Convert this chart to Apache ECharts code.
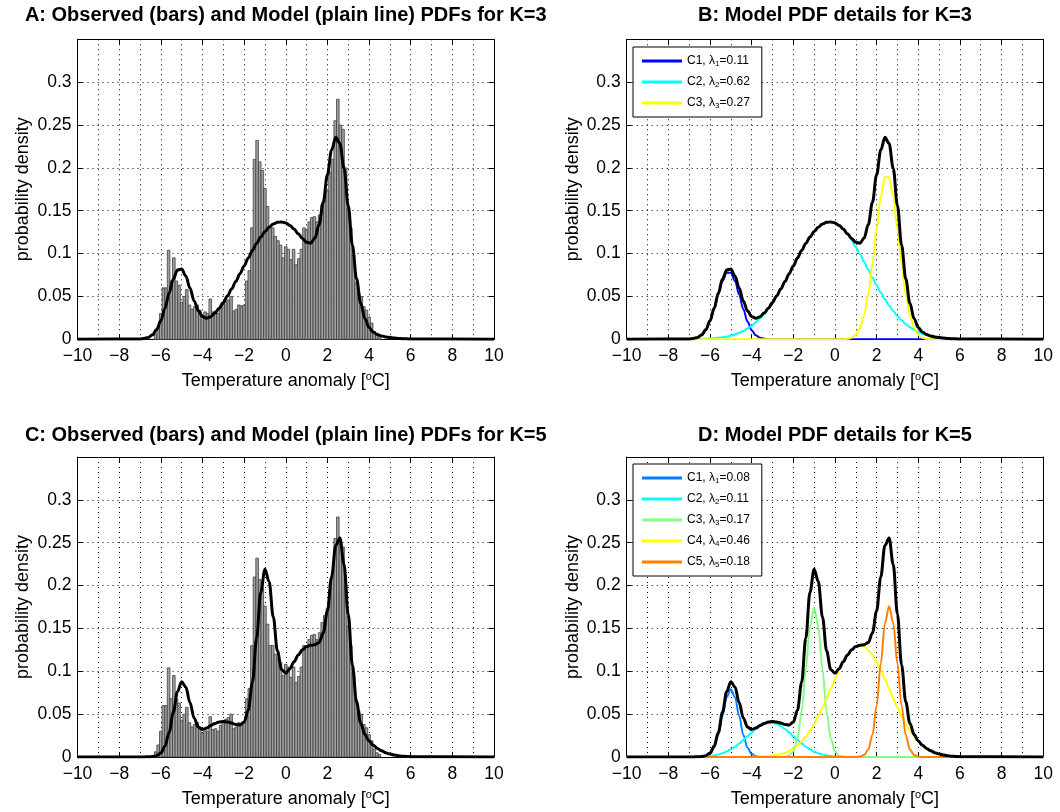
<!DOCTYPE html>
<html><head><meta charset="utf-8">
<script src="https://cdn.jsdelivr.net/npm/echarts@6/dist/echarts.min.js"></script>
<style>html,body{margin:0;padding:0;background:#fff}#c{width:1060px;height:812px}</style>
</head><body><div id="c"></div><script>
// ---------------- DATA ----------------
const titles = [
  'A: Observed (bars) and Model (plain line) PDFs for K=3',
  'B: Model PDF details for K=3',
  'C: Observed (bars) and Model (plain line) PDFs for K=5',
  'D: Model PDF details for K=5'
];
const xTicks = [-10, -8, -6, -4, -2, 0, 2, 4, 6, 8, 10];
const yTicks = [0, 0.05, 0.1, 0.15, 0.2, 0.25, 0.3];
const xName = 'Temperature anomaly [{sup|o}C]';
const yName = 'probability density';

// observed histogram (same observations for A and C)
const binWidth = 0.125;
const binCenters = [-6.25, -6.125, -6, -5.875, -5.75, -5.625, -5.5, -5.375, -5.25, -5.125, -5, -4.875, -4.75, -4.625, -4.5, -4.375, -4.25, -4.125, -4, -3.875, -3.75, -3.625, -3.5, -3.375, -3.25, -3.125, -3, -2.875, -2.75, -2.625, -2.5, -2.375, -2.25, -2.125, -2, -1.875, -1.75, -1.625, -1.5, -1.375, -1.25, -1.125, -1, -0.875, -0.75, -0.625, -0.5, -0.375, -0.25, -0.125, 0, 0.125, 0.25, 0.375, 0.5, 0.625, 0.75, 0.875, 1, 1.125, 1.25, 1.375, 1.5, 1.625, 1.75, 1.875, 2, 2.125, 2.25, 2.375, 2.5, 2.625, 2.75, 2.875, 3, 3.125, 3.25, 3.375, 3.5, 3.625, 3.75, 3.875, 4, 4.125, 4.25, 4.375, 4.5];
const observed = [0.006, 0.014, 0.03, 0.06, 0.06, 0.104, 0.068, 0.095, 0.068, 0.063, 0.043, 0.05, 0.058, 0.04, 0.035, 0.038, 0.04, 0.034, 0.028, 0.032, 0.03, 0.047, 0.032, 0.033, 0.03, 0.037, 0.04, 0.044, 0.046, 0.05, 0.033, 0.035, 0.04, 0.039, 0.04, 0.068, 0.08, 0.13, 0.21, 0.232, 0.207, 0.197, 0.176, 0.155, 0.13, 0.13, 0.12, 0.115, 0.11, 0.095, 0.108, 0.105, 0.093, 0.105, 0.087, 0.094, 0.105, 0.13, 0.128, 0.137, 0.142, 0.143, 0.137, 0.145, 0.157, 0.165, 0.173, 0.195, 0.21, 0.255, 0.28, 0.25, 0.245, 0.2, 0.153, 0.13, 0.098, 0.066, 0.054, 0.05, 0.038, 0.034, 0.026, 0.019, 0.009, 0.005, 0.003];

// model curves sampled along xs
const xs = [-10, -7, -6.8, -6.6, -6.4, -6.2, -6, -5.8, -5.6, -5.4, -5.2, -5, -4.8, -4.6, -4.4, -4.2, -4, -3.8, -3.6, -3.4, -3.2, -3, -2.8, -2.6, -2.4, -2.2, -2, -1.8, -1.6, -1.4, -1.2, -1, -0.8, -0.6, -0.4, -0.2, 0, 0.2, 0.4, 0.6, 0.8, 1, 1.2, 1.4, 1.6, 1.8, 2, 2.2, 2.4, 2.6, 2.8, 3, 3.2, 3.4, 3.6, 3.8, 4, 4.2, 4.4, 4.6, 4.8, 5, 5.2, 5.4, 5.6, 5.8, 6, 10];

const k3c1 = [0, 0.0002, 0.0007, 0.0019, 0.0048, 0.0107, 0.0207, 0.0351, 0.0523, 0.0681, 0.0777, 0.0777, 0.0681, 0.0523, 0.0351, 0.0207, 0.0107, 0.0048, 0.0019, 0.0007, 0.0002, 0, 0, 0, 0, 0, 0, 0, 0, 0, 0, 0, 0, 0, 0, 0, 0, 0, 0, 0, 0, 0, 0, 0, 0, 0, 0, 0, 0, 0, 0, 0, 0, 0, 0, 0, 0, 0, 0, 0, 0, 0, 0, 0, 0, 0, 0, 0];
const k3c2 = [0, 0.0001, 0.0002, 0.0003, 0.0004, 0.0006, 0.0009, 0.0012, 0.0017, 0.0023, 0.0032, 0.0043, 0.0057, 0.0075, 0.0097, 0.0125, 0.0158, 0.0198, 0.0245, 0.0299, 0.036, 0.0429, 0.0505, 0.0587, 0.0674, 0.0764, 0.0856, 0.0948, 0.1036, 0.1118, 0.1193, 0.1257, 0.1308, 0.1345, 0.1365, 0.1369, 0.1357, 0.1328, 0.1284, 0.1226, 0.1157, 0.1078, 0.0992, 0.0902, 0.081, 0.0719, 0.063, 0.0545, 0.0466, 0.0394, 0.0329, 0.0271, 0.0221, 0.0177, 0.0141, 0.0111, 0.0086, 0.0066, 0.005, 0.0037, 0.0027, 0.002, 0.0014, 0.001, 0.0007, 0.0005, 0.0003, 0];
const k3c3 = [0, 0, 0, 0, 0, 0, 0, 0, 0, 0, 0, 0, 0, 0, 0, 0, 0, 0, 0, 0, 0, 0, 0, 0, 0, 0, 0, 0, 0, 0, 0, 0, 0, 0, 0, 0, 0, 0, 0.0002, 0.0006, 0.0019, 0.0053, 0.013, 0.0279, 0.0528, 0.0879, 0.1289, 0.1663, 0.189, 0.189, 0.1663, 0.1289, 0.0879, 0.0528, 0.0279, 0.013, 0.0053, 0.0019, 0.0006, 0.0002, 0, 0, 0, 0, 0, 0, 0, 0];
const k3total = [0, 0.0003, 0.0009, 0.0022, 0.0052, 0.0113, 0.0216, 0.0363, 0.054, 0.0704, 0.0809, 0.082, 0.0738, 0.0598, 0.0448, 0.0332, 0.0265, 0.0246, 0.0264, 0.0306, 0.0362, 0.0429, 0.0505, 0.0587, 0.0674, 0.0764, 0.0856, 0.0948, 0.1036, 0.1118, 0.1193, 0.1257, 0.1308, 0.1345, 0.1365, 0.1369, 0.1357, 0.1328, 0.1286, 0.1232, 0.1176, 0.1131, 0.1122, 0.1181, 0.1338, 0.1598, 0.1919, 0.2208, 0.2356, 0.2284, 0.1992, 0.156, 0.11, 0.0705, 0.042, 0.0241, 0.0139, 0.0085, 0.0056, 0.0039, 0.0027, 0.002, 0.0014, 0.001, 0.0007, 0.0005, 0.0003, 0];

const k5c1 = [0, 0, 0, 0, 0.0002, 0.0009, 0.0035, 0.0107, 0.0257, 0.0479, 0.0697, 0.079, 0.0697, 0.0479, 0.0257, 0.0107, 0.0035, 0.0009, 0.0002, 0, 0, 0, 0, 0, 0, 0, 0, 0, 0, 0, 0, 0, 0, 0, 0, 0, 0, 0, 0, 0, 0, 0, 0, 0, 0, 0, 0, 0, 0, 0, 0, 0, 0, 0, 0, 0, 0, 0, 0, 0, 0, 0, 0, 0, 0, 0, 0, 0];
const k5c2 = [0, 0.0001, 0.0001, 0.0002, 0.0004, 0.0007, 0.0012, 0.0019, 0.003, 0.0044, 0.0064, 0.0089, 0.012, 0.0157, 0.0198, 0.0242, 0.0286, 0.0326, 0.0361, 0.0385, 0.0398, 0.0398, 0.0385, 0.0361, 0.0326, 0.0286, 0.0242, 0.0198, 0.0157, 0.012, 0.0089, 0.0064, 0.0044, 0.003, 0.0019, 0.0012, 0.0007, 0.0004, 0.0002, 0.0001, 0.0001, 0, 0, 0, 0, 0, 0, 0, 0, 0, 0, 0, 0, 0, 0, 0, 0, 0, 0, 0, 0, 0, 0, 0, 0, 0, 0, 0];
const k5c3 = [0, 0, 0, 0, 0, 0, 0, 0, 0, 0, 0, 0, 0, 0, 0, 0, 0, 0, 0, 0, 0, 0, 0, 0, 0.0003, 0.0015, 0.0065, 0.0212, 0.0533, 0.1028, 0.1526, 0.174, 0.1526, 0.1028, 0.0533, 0.0212, 0.0065, 0.0015, 0.0003, 0, 0, 0, 0, 0, 0, 0, 0, 0, 0, 0, 0, 0, 0, 0, 0, 0, 0, 0, 0, 0, 0, 0, 0, 0, 0, 0, 0, 0];
const k5c4 = [0, 0, 0, 0, 0, 0, 0, 0, 0, 0, 0, 0, 0, 0, 0, 0, 0.0001, 0.0002, 0.0004, 0.0006, 0.001, 0.0016, 0.0024, 0.0035, 0.005, 0.0072, 0.01, 0.0136, 0.0182, 0.0239, 0.0307, 0.0386, 0.0477, 0.0577, 0.0684, 0.0795, 0.0906, 0.1012, 0.1107, 0.1188, 0.1249, 0.1287, 0.13, 0.1287, 0.1249, 0.1188, 0.1107, 0.1012, 0.0906, 0.0795, 0.0684, 0.0577, 0.0477, 0.0386, 0.0307, 0.0239, 0.0182, 0.0136, 0.01, 0.0072, 0.005, 0.0035, 0.0024, 0.0016, 0.001, 0.0006, 0.0004, 0];
const k5c5 = [0, 0, 0, 0, 0, 0, 0, 0, 0, 0, 0, 0, 0, 0, 0, 0, 0, 0, 0, 0, 0, 0, 0, 0, 0, 0, 0, 0, 0, 0, 0, 0, 0, 0, 0, 0, 0, 0, 0, 0, 0, 0.0001, 0.0005, 0.0023, 0.0087, 0.0258, 0.0597, 0.1089, 0.1561, 0.176, 0.1561, 0.1089, 0.0597, 0.0258, 0.0087, 0.0023, 0.0005, 0.0001, 0, 0, 0, 0, 0, 0, 0, 0, 0, 0];
const k5total = [0, 0.0001, 0.0001, 0.0002, 0.0006, 0.0016, 0.0047, 0.0126, 0.0287, 0.0523, 0.0761, 0.0879, 0.0817, 0.0636, 0.0455, 0.0349, 0.0322, 0.0337, 0.0367, 0.0391, 0.0408, 0.0414, 0.0409, 0.0396, 0.0379, 0.0373, 0.0407, 0.0546, 0.0872, 0.1387, 0.1922, 0.219, 0.2047, 0.1635, 0.1236, 0.1019, 0.0978, 0.1031, 0.1112, 0.1189, 0.125, 0.1288, 0.1305, 0.131, 0.1336, 0.1446, 0.1704, 0.2101, 0.2467, 0.2555, 0.2245, 0.1666, 0.1074, 0.0644, 0.0394, 0.0262, 0.0187, 0.0137, 0.01, 0.0072, 0.005, 0.0035, 0.0024, 0.0016, 0.001, 0.0006, 0.0004, 0];

const k3Names = ['C1, λ1=0.11', 'C2, λ2=0.62', 'C3, λ3=0.27'];
const k5Names = ['C1, λ1=0.08', 'C2, λ2=0.11', 'C3, λ3=0.17', 'C4, λ4=0.46', 'C5, λ5=0.18'];
const k3Colors = ['#0000ff', '#00ffff', '#ffff00'];
const k5Colors = ['#0080ff', '#00ffff', '#80ff80', '#ffff00', '#ff8000'];

// ---------------- CHART ----------------
const FONT = '"Liberation Sans", Arial, Helvetica, sans-serif';
const grids = [
  {left: 77.5, top: 39.3, width: 416.5, height: 300},
  {left: 626.7, top: 39.3, width: 416.5, height: 300},
  {left: 77.5, top: 457, width: 416.5, height: 300},
  {left: 626.7, top: 457, width: 416.5, height: 300}
];
const dotted = {color: '#000', width: 1, type: [1, 4]};
const fmtX = v => (v < 0 ? '\u2212' + Math.abs(v) : String(v));
const fmtY = v => (yTicks.some(t => Math.abs(t - v) < 1e-9) ? String(+v.toFixed(2)) : '');

const xAxes = [], yAxes = [];
grids.forEach((g, i) => {
  xAxes.push({
    type: 'value', gridIndex: i, min: xTicks[0], max: xTicks[xTicks.length - 1], interval: 2,
    position: 'bottom',
    axisLine: {show: true, onZero: false, lineStyle: {color: '#000', width: 1}},
    axisTick: {show: true, inside: true, length: 5, lineStyle: {color: '#000'}},
    minorTick: {show: false, splitNumber: 2},
    minorSplitLine: {show: true, lineStyle: dotted},
    splitLine: {show: true, lineStyle: dotted},
    axisLabel: {formatter: fmtX, color: '#000', fontSize: 17.5, fontFamily: FONT, margin: 8},
    name: xName, nameLocation: 'middle', nameGap: 32,
    nameTextStyle: {color: '#000', fontSize: 18, fontFamily: FONT,
      rich: {sup: {fontSize: 11, fontFamily: FONT, color: '#000', verticalAlign: 'bottom', padding: [0, 0, 9, 0]}}}
  });
  xAxes.push({
    type: 'value', gridIndex: i, min: xTicks[0], max: xTicks[xTicks.length - 1], interval: 2,
    position: 'top',
    axisLine: {show: true, onZero: false, lineStyle: {color: '#000', width: 1}},
    axisTick: {show: true, inside: true, length: 5, lineStyle: {color: '#000'}},
    splitLine: {show: false}, axisLabel: {show: false}
  });
  yAxes.push({
    type: 'value', gridIndex: i, min: 0, max: 0.35, interval: 0.05, position: 'left',
    axisLine: {show: true, onZero: false, lineStyle: {color: '#000', width: 1}},
    axisTick: {show: true, inside: true, length: 5, lineStyle: {color: '#000'}},
    splitLine: {show: true, lineStyle: dotted},
    axisLabel: {formatter: fmtY, color: '#000', fontSize: 17.5, fontFamily: FONT, margin: 6},
    name: yName, nameLocation: 'middle', nameGap: 45,
    nameTextStyle: {color: '#000', fontSize: 18, fontFamily: FONT}
  });
  yAxes.push({
    type: 'value', gridIndex: i, min: 0, max: 0.35, interval: 0.05, position: 'right',
    axisLine: {show: true, onZero: false, lineStyle: {color: '#000', width: 1}},
    axisTick: {show: true, inside: true, length: 5, lineStyle: {color: '#000'}},
    splitLine: {show: false}, axisLabel: {show: false}
  });
});

const pairs = ys => xs.map((x, i) => [x, ys[i]]);
const hist = binCenters.map((c, i) => [c, observed[i]]);

function renderBars(params, api) {
  const x = api.value(0), y = api.value(1);
  const tl = api.coord([x - binWidth / 2, y]);
  const br = api.coord([x + binWidth / 2, 0]);
  return {
    type: 'rect',
    shape: {x: tl[0], y: tl[1], width: br[0] - tl[0], height: br[1] - tl[1]},
    style: {fill: '#a0a0a0', stroke: '#404040', lineWidth: 0.8}
  };
}
function lineSeries(name, data, color, width, axis) {
  return {
    type: 'line', name: name, data: pairs(data), xAxisIndex: axis * 2, yAxisIndex: axis * 2,
    showSymbol: false, symbol: 'none', smooth: 0.35, smoothMonotone: 'x',
    color: color, lineStyle: {color: color, width: width}, emphasis: {disabled: true}, animation: false
  };
}

const series = [];
series.push({type: 'custom', name: 'obsA', xAxisIndex: 0, yAxisIndex: 0, data: hist, renderItem: renderBars, encode: {x: 0, y: 1}, animation: false, silent: true});
series.push(lineSeries('modelA', k3total, '#000', 3, 0));
[k3c1, k3c2, k3c3].forEach((d, i) => series.push(lineSeries(k3Names[i], d, k3Colors[i], 2, 1)));
series.push(lineSeries('modelB', k3total, '#000', 3, 1));
series.push({type: 'custom', name: 'obsC', xAxisIndex: 4, yAxisIndex: 4, data: hist, renderItem: renderBars, encode: {x: 0, y: 1}, animation: false, silent: true});
series.push(lineSeries('modelC', k5total, '#000', 3, 2));
[k5c1, k5c2, k5c3, k5c4, k5c5].forEach((d, i) => series.push(lineSeries(k5Names[i], d, k5Colors[i], 2, 3)));
series.push(lineSeries('modelD', k5total, '#000', 3, 3));

const legendBase = {
  orient: 'vertical', icon: 'rect', itemWidth: 40, itemHeight: 3, itemGap: 7,
  backgroundColor: '#fff', borderColor: '#000', borderWidth: 1, borderRadius: 0,
  padding: [7, 12, 7, 9], selectedMode: false,
  formatter: n => n.replace(/λ(\d)/, 'λ{sub|$1}'),
  textStyle: {fontSize: 12, fontFamily: FONT, color: '#000', verticalAlign: 'bottom', lineHeight: 14,
    rich: {sub: {fontSize: 8, fontFamily: FONT, color: '#000', verticalAlign: 'bottom', padding: [6, 0, 0, 0]}}}
};

const option = {
  backgroundColor: '#fff',
  animation: false,
  title: titles.map((t, i) => ({
    text: t, left: grids[i].left + grids[i].width / 2, top: i < 2 ? 5 : 425, textAlign: 'center', padding: 0,
    textStyle: {fontSize: 20, fontWeight: 'bold', fontFamily: FONT, color: '#000'}
  })),
  grid: grids.map(g => Object.assign({containLabel: false}, g)),
  xAxis: xAxes, yAxis: yAxes,
  legend: [
    Object.assign({}, legendBase, {left: 633, top: 47, data: k3Names}),
    Object.assign({}, legendBase, {left: 633, top: 464, data: k5Names})
  ],
  series: series
};
const chart = echarts.init(document.getElementById('c'), null, {renderer: 'canvas'});
chart.setOption(option);
</script></body></html>
